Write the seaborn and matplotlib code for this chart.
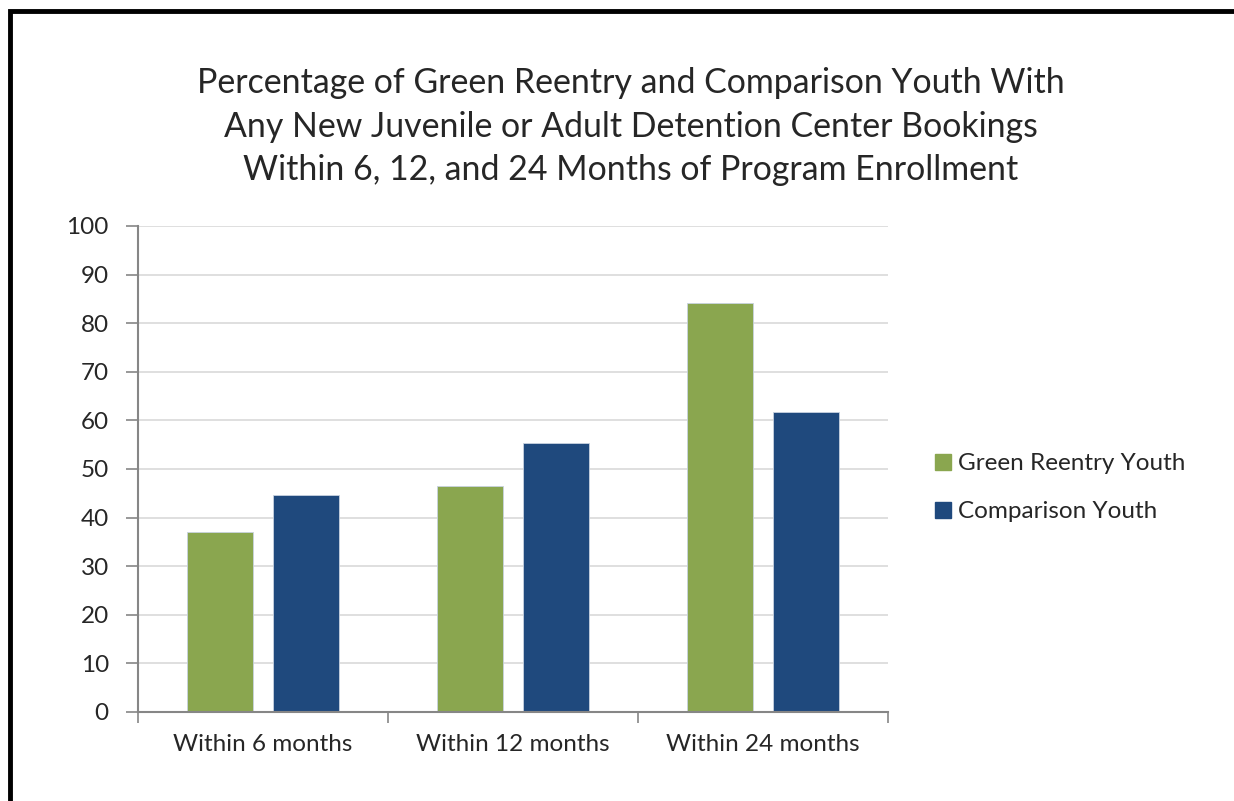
import numpy as np
import pandas as pd
import matplotlib
matplotlib.use("Agg")
import matplotlib.pyplot as plt
import seaborn as sns
from matplotlib.patches import Rectangle
from matplotlib.lines import Line2D

# ── Data ──────────────────────────────────────────────────────────────────────
periods = ["Within 6 months", "Within 12 months", "Within 24 months"]
groups = ["Green Reentry Youth", "Comparison Youth"]
green_reentry = [37.0, 46.5, 84.1]
comparison = [44.6, 55.3, 61.7]
y_ticks = [0, 10, 20, 30, 40, 50, 60, 70, 80, 90, 100]

title = ("Percentage of Green Reentry and Comparison Youth With\n"
         "Any New Juvenile or Adult Detention Center Bookings\n"
         "Within 6, 12, and 24 Months of Program Enrollment")

colors = {"Green Reentry Youth": "#8AA64F", "Comparison Youth": "#1F497D"}

df = pd.DataFrame({
    "period": periods * 2,
    "group": [groups[0]] * 3 + [groups[1]] * 3,
    "value": green_reentry + comparison,
})

# ── Plot ──────────────────────────────────────────────────────────────────────
sns.set_style("white")
plt.rcParams["font.family"] = ["Lato", "DejaVu Sans"]

fig = plt.figure(figsize=(12.34, 8.01), dpi=100)
ax = fig.add_axes([138 / 1234, 1 - 712 / 801, 750 / 1234, 486 / 801])

sns.barplot(
    data=df, x="period", y="value", hue="group", order=periods,
    hue_order=groups, palette=colors, saturation=1, width=0.688, gap=0.233,
    edgecolor="#c8d2e0", linewidth=0.6, ax=ax, legend=False,
)

ax.set_xlim(-0.5, 2.5)
ax.set_ylim(0, 100)
ax.set_yticks(y_ticks)
ax.yaxis.grid(True, color="#d9d9d9", linewidth=1.2)
ax.set_axisbelow(True)
ax.set_xlabel("")
ax.set_ylabel("")

for side in ["top", "right"]:
    ax.spines[side].set_visible(False)
for side in ["left", "bottom"]:
    ax.spines[side].set_color("#868686")
    ax.spines[side].set_linewidth(1.5)

ax.tick_params(axis="y", which="major", length=9, width=1.2, color="#868686",
               labelsize=17.5, pad=12, left=True)
ax.tick_params(axis="x", which="major", length=0, labelsize=17.5, pad=16)
ax.set_xticks([-0.5, 0.5, 1.5, 2.5], minor=True)
ax.tick_params(axis="x", which="minor", length=8, width=1.2, color="#868686",
               bottom=True)

fig.text(0.511, 0.842, title, ha="center", va="center", fontsize=24.4,
         linespacing=1.45)

handles = [Line2D([0], [0], marker="s", linestyle="", markersize=11,
                  markerfacecolor=colors[g], markeredgecolor=colors[g])
           for g in groups]
fig.legend(handles, groups, loc="center left", bbox_to_anchor=(0.737, 0.391),
           frameon=False, fontsize=17.5, handletextpad=0.1,
           labelspacing=1.1, handlelength=1.0)

# outer frame (only top and left visible in the original crop)
fig.patches.append(Rectangle((10 / 1234, -0.05), 1.2, 1 - 11 / 801 + 0.05,
                             transform=fig.transFigure, fill=False,
                             edgecolor="black", linewidth=3.5))

fig.savefig("out.png", dpi=100)
plt.close(fig)
